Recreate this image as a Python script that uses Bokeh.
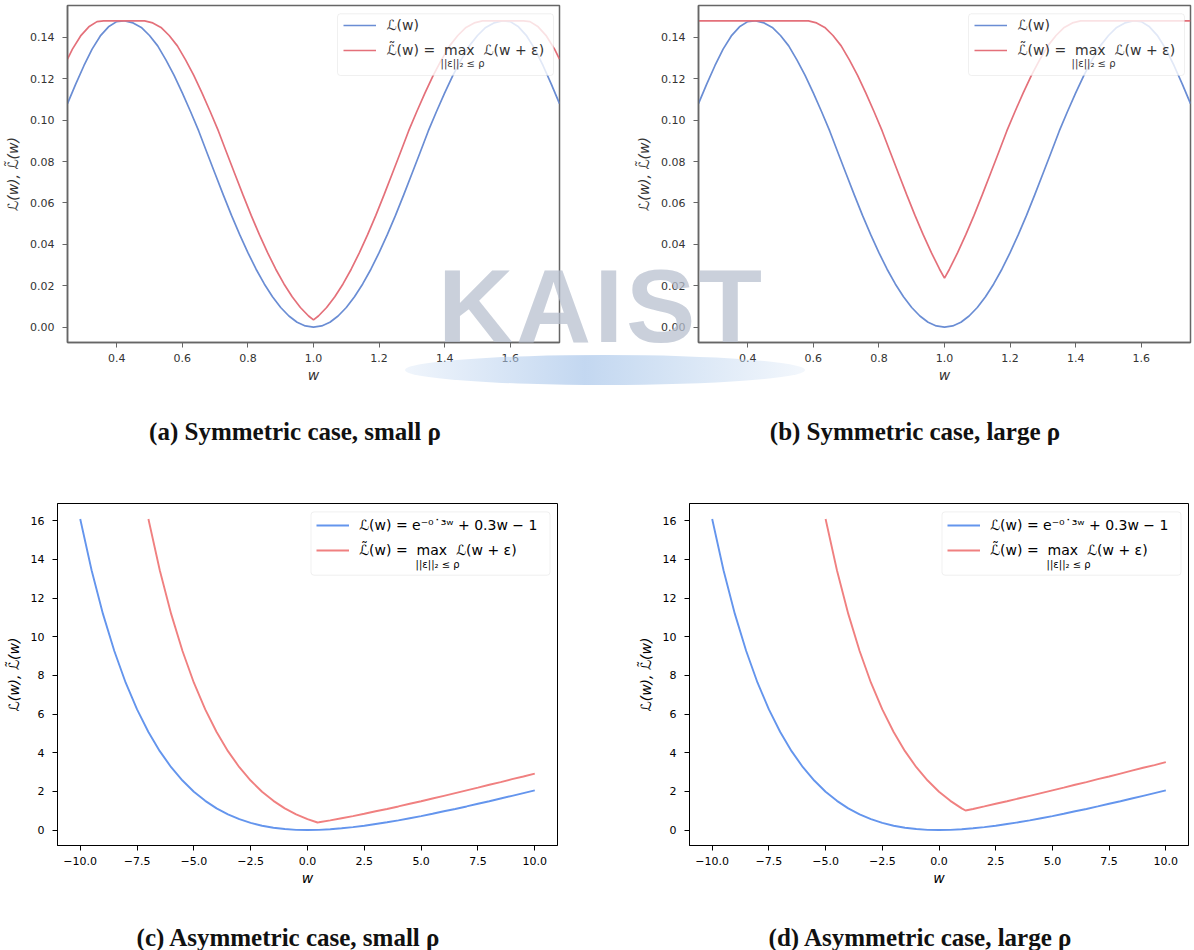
from bokeh.plotting import figure
from bokeh.models import (Range1d, FixedTicker, PrintfTickFormatter, Legend, LegendItem,
                          Label, BoxAnnotation, Div, Spacer)
from bokeh.layouts import column, row
from bokeh.embed import file_html
from bokeh.resources import INLINE

# ---------------- data ----------------
sym_x_ticks = [0.4, 0.6, 0.8, 1.0, 1.2, 1.4, 1.6]
sym_y_ticks = [0.0, 0.02, 0.04, 0.06, 0.08, 0.10, 0.12, 0.14]
asym_x_ticks = [-10.0, -7.5, -5.0, -2.5, 0.0, 2.5, 5.0, 7.5, 10.0]
asym_x_labels = ["\u221210.0", "\u22127.5", "\u22125.0", "\u22122.5", "0.0", "2.5", "5.0", "7.5", "10.0"]
asym_y_ticks = [0, 2, 4, 6, 8, 10, 12, 14, 16]

# symmetric loss L(w) (panels a, b)
w_sym = [0.25, 0.275, 0.3, 0.325, 0.35, 0.375, 0.4, 0.42, 0.425, 0.45, 0.475, 0.5, 0.525,
         0.55, 0.575, 0.6, 0.625, 0.65, 0.675, 0.7, 0.725, 0.75, 0.775, 0.8, 0.825, 0.85,
         0.875, 0.9, 0.925, 0.95, 0.975, 1.0, 1.025, 1.05, 1.075, 1.1, 1.125, 1.15, 1.175,
         1.2, 1.225, 1.25, 1.275, 1.3, 1.325, 1.35, 1.375, 1.4, 1.425, 1.45, 1.475, 1.5,
         1.525, 1.55, 1.575, 1.58, 1.6, 1.625, 1.65, 1.675, 1.7, 1.725, 1.75]
loss_sym = [0.1080, 0.1174, 0.1263, 0.1343, 0.1407, 0.1451, 0.1476, 0.1480, 0.1480, 0.1470,
            0.1448, 0.1409, 0.1359, 0.1291, 0.1216, 0.1132, 0.1042, 0.0948, 0.0844, 0.0741,
            0.0639, 0.0540, 0.0447, 0.0360, 0.0280, 0.0209, 0.0147, 0.0095, 0.0054, 0.0024,
            0.0006, 0.0, 0.0006, 0.0024, 0.0054, 0.0095, 0.0147, 0.0209, 0.0280, 0.0360,
            0.0447, 0.0540, 0.0639, 0.0741, 0.0844, 0.0948, 0.1042, 0.1132, 0.1216, 0.1291,
            0.1359, 0.1409, 0.1448, 0.1470, 0.1480, 0.1480, 0.1476, 0.1451, 0.1407, 0.1343,
            0.1263, 0.1174, 0.1080]

# SAM loss, small rho (panel a)
w_sam_a = [0.25, 0.265, 0.29, 0.315, 0.34, 0.36, 0.48, 0.485, 0.51, 0.535, 0.56, 0.585, 0.61,
           0.635, 0.66, 0.685, 0.71, 0.735, 0.76, 0.785, 0.81, 0.835, 0.86, 0.885, 0.91, 0.935,
           0.96, 0.985, 1.0, 1.015, 1.04, 1.065, 1.09, 1.115, 1.14, 1.165, 1.19, 1.215, 1.24,
           1.265, 1.29, 1.315, 1.34, 1.365, 1.39, 1.415, 1.44, 1.465, 1.49, 1.515, 1.52, 1.64,
           1.66, 1.685, 1.71, 1.735, 1.75]
loss_sam_a = [0.1295, 0.1343, 0.1407, 0.1451, 0.1476, 0.1480, 0.1480, 0.1480, 0.1470, 0.1448,
              0.1409, 0.1359, 0.1291, 0.1216, 0.1132, 0.1042, 0.0948, 0.0844, 0.0741, 0.0639,
              0.0540, 0.0447, 0.0360, 0.0280, 0.0209, 0.0147, 0.0095, 0.0054, 0.0035, 0.0054,
              0.0095, 0.0147, 0.0209, 0.0280, 0.0360, 0.0447, 0.0540, 0.0639, 0.0741, 0.0844,
              0.0948, 0.1042, 0.1132, 0.1216, 0.1291, 0.1359, 0.1409, 0.1448, 0.1470, 0.1480,
              0.1480, 0.1480, 0.1476, 0.1451, 0.1407, 0.1343, 0.1295]

# SAM loss, large rho (panel b)
w_sam_b = [0.25, 0.58, 0.585, 0.61, 0.635, 0.66, 0.685, 0.71, 0.735, 0.76, 0.785, 0.81, 0.835,
           0.86, 0.885, 0.91, 0.935, 0.96, 0.985, 1.0, 1.015, 1.04, 1.065, 1.09, 1.115, 1.14,
           1.165, 1.19, 1.215, 1.24, 1.265, 1.29, 1.315, 1.34, 1.365, 1.39, 1.415, 1.42, 1.75]
loss_sam_b = [0.1480, 0.1480, 0.1480, 0.1470, 0.1448, 0.1409, 0.1359, 0.1291, 0.1216, 0.1132,
              0.1042, 0.0948, 0.0844, 0.0741, 0.0639, 0.0540, 0.0447, 0.0360, 0.0280, 0.0237,
              0.0280, 0.0360, 0.0447, 0.0540, 0.0639, 0.0741, 0.0844, 0.0948, 0.1042, 0.1132,
              0.1216, 0.1291, 0.1359, 0.1409, 0.1448, 0.1470, 0.1480, 0.1480, 0.1480]

# asymmetric loss (panels c, d)
w_asym = [-10.0, -9.5, -9.0, -8.5, -8.0, -7.5, -7.0, -6.5, -6.0, -5.5, -5.0, -4.5, -4.0, -3.5,
          -3.0, -2.5, -2.0, -1.5, -1.0, -0.5, 0.0, 0.5, 1.0, 1.5, 2.0, 2.5, 3.0, 3.5, 4.0, 4.5,
          5.0, 5.5, 6.0, 6.5, 7.0, 7.5, 8.0, 8.5, 9.0, 9.5, 10.0]
loss_asym = [16.09, 13.44, 11.18, 9.26, 7.62, 6.24, 5.07, 4.08, 3.25, 2.56, 1.98, 1.51, 1.12, 0.81,
             0.56, 0.37, 0.22, 0.12, 0.05, 0.01, 0.0, 0.01, 0.04, 0.09, 0.15, 0.22, 0.31, 0.40,
             0.50, 0.61, 0.72, 0.84, 0.97, 1.09, 1.22, 1.36, 1.49, 1.63, 1.77, 1.91, 2.05]

w_sam_c = [-7.0, -6.5, -6.0, -5.5, -5.0, -4.5, -4.0, -3.5, -3.0, -2.5, -2.0, -1.5, -1.0, -0.5,
           0.0, 0.44, 0.5, 1.0, 1.5, 2.0, 2.5, 3.0, 3.5, 4.0, 4.5, 5.0, 5.5, 6.0, 6.5, 7.0, 7.5,
           8.0, 8.5, 9.0, 9.5, 10.0]
loss_sam_c = [16.09, 13.44, 11.18, 9.26, 7.62, 6.24, 5.07, 4.08, 3.25, 2.56, 1.98, 1.51, 1.12, 0.81,
              0.56, 0.39, 0.40, 0.50, 0.61, 0.72, 0.84, 0.97, 1.09, 1.22, 1.36, 1.49, 1.63, 1.77,
              1.91, 2.05, 2.19, 2.34, 2.48, 2.63, 2.77, 2.92]

w_sam_d = [-5.0, -4.5, -4.0, -3.5, -3.0, -2.5, -2.0, -1.5, -1.0, -0.5, 0.0, 0.5, 1.0, 1.17,
           1.5, 2.0, 2.5, 3.0, 3.5, 4.0, 4.5, 5.0, 5.5, 6.0, 6.5, 7.0, 7.5, 8.0, 8.5, 9.0, 9.5, 10.0]
loss_sam_d = [16.09, 13.44, 11.18, 9.26, 7.62, 6.24, 5.07, 4.08, 3.25, 2.56, 1.98, 1.51, 1.12, 1.01,
              1.09, 1.22, 1.36, 1.49, 1.63, 1.77, 1.91, 2.05, 2.19, 2.34, 2.48, 2.63, 2.77, 2.92,
              3.07, 3.22, 3.36, 3.51]

captions = ["(a) Symmetric case, small \u03c1", "(b) Symmetric case, large \u03c1",
            "(c) Asymmetric case, small \u03c1", "(d) Asymmetric case, large \u03c1"]
legend_sym = ["\u2112(w)", "\u2112\u0303(w) =\u00a0 max\u00a0 \u2112(w + \u03b5)"]
legend_asym = ["\u2112(w) = e\u207b\u2070\u02d9\u00b3\u02b7 + 0.3w \u2212 1",
               "\u2112\u0303(w) =\u00a0 max\u00a0 \u2112(w + \u03b5)"]
subscript_text = "||\u03b5||\u2082 \u2264 \u03c1"
y_label = "\u2112(w), \u2112\u0303(w)"
x_label = "w"
watermark = "KAIST"

# ---------------- styles ----------------
SYM = dict(blue="#6a8dd4", red="#e4707a", frame="#666666", frame_w=1.5, text="#333333", lw=1.7)
ASYM = dict(blue="#6495ed", red="#f08080", frame="#000000", frame_w=1.0, text="#000000", lw=1.9)
FONT = "DejaVu Sans"


def make_panel(kind, wb, lb, wr, lr, fw, fh, mbl, mbr, mbt, mbb):
    st = SYM if kind == "sym" else ASYM
    if kind == "sym":
        xr, yr = (0.25, 1.75), (-0.0074, 0.1554)
    else:
        xr, yr = (-11.0, 11.0), (-0.80, 16.89)
    p = figure(output_backend="svg", toolbar_location=None, frame_width=fw, frame_height=fh,
               x_range=Range1d(*xr), y_range=Range1d(*yr),
               min_border_left=mbl, min_border_right=mbr, min_border_top=mbt, min_border_bottom=mbb,
               background_fill_color="white", border_fill_color="white")
    p.outline_line_color = st["frame"]
    p.outline_line_width = st["frame_w"]
    p.grid.visible = False
    xa, ya = p.xaxis[0], p.yaxis[0]
    if kind == "sym":
        xa.ticker = FixedTicker(ticks=sym_x_ticks)
        xa.formatter = PrintfTickFormatter(format="%.1f")
        ya.ticker = FixedTicker(ticks=sym_y_ticks)
        ya.formatter = PrintfTickFormatter(format="%.2f")
    else:
        xa.ticker = FixedTicker(ticks=asym_x_ticks)
        xa.major_label_overrides = {t: s for t, s in zip(asym_x_ticks, asym_x_labels)}
        ya.ticker = FixedTicker(ticks=asym_y_ticks)
    for ax in (xa, ya):
        ax.axis_line_color = st["frame"]
        ax.axis_line_width = st["frame_w"]
        ax.major_tick_line_color = st["frame"]
        ax.major_tick_in = 0
        ax.major_tick_out = 5
        ax.minor_tick_line_color = None
        ax.major_label_text_font = FONT
        ax.major_label_text_font_size = "11px"
        ax.major_label_text_color = st["text"]
        ax.axis_label_text_font = FONT
        ax.axis_label_text_font_size = "14px"
        ax.axis_label_text_font_style = "italic"
        ax.axis_label_text_color = st["text"]
    xa.major_label_standoff = 6
    xa.axis_label_standoff = 2
    ya.major_label_standoff = 8
    ya.axis_label_standoff = 6
    xa.axis_label = x_label
    ya.axis_label = y_label

    r1 = p.line(wb, lb, line_color=st["blue"], line_width=st["lw"])
    r2 = p.line(wr, lr, line_color=st["red"], line_width=st["lw"])

    # legend box + legend + subscript under "max"
    if kind == "sym":
        box_w, pad_r, top, bot, it_bot, samp, stand, sub_dx, sub_dy = 216, 6, 8.3, 70, 55, 5.5, 11, 125, 58
        texts = legend_sym
    else:
        box_w, pad_r, top, bot, it_bot, samp, stand, sub_dx, sub_dy = 239, 7.5, 8.4, 71.7, 56.7, 5.5, 10, 126.6, 60.7
        texts = legend_asym
    bl = fw - pad_r - box_w
    p.add_layout(BoxAnnotation(left=bl, right=fw - pad_r, top=fh - top, bottom=fh - bot,
                               left_units="screen", right_units="screen",
                               top_units="screen", bottom_units="screen",
                               fill_color="white", fill_alpha=0.8, line_color="#cccccc",
                               line_width=1, border_radius=3))
    leg = Legend(items=[LegendItem(label=texts[0], renderers=[r1]),
                        LegendItem(label=texts[1], renderers=[r2])],
                 location=(bl + samp, fh - it_bot), padding=0, margin=0, spacing=5,
                 glyph_width=33, glyph_height=20, label_height=20, label_standoff=stand,
                 border_line_alpha=0, background_fill_alpha=0,
                 label_text_font=FONT, label_text_font_size="14px", label_text_color=st["text"])
    p.add_layout(leg)
    p.add_layout(Label(x=bl + sub_dx, y=fh - sub_dy, x_units="screen", y_units="screen",
                       text=subscript_text, text_align="center", text_baseline="middle",
                       text_font=FONT, text_font_size="10px", text_color=st["text"]))
    return p


# layout in page pixels (the page body has no margin)
fa = make_panel("sym", w_sym, loss_sym, w_sam_a, loss_sam_a, 492, 337, 67, 41, 5, 53)
fb = make_panel("sym", w_sym, loss_sym, w_sam_b, loss_sam_b, 492, 337, 98, 4, 5, 53)
fc = make_panel("asym", w_asym, loss_asym, w_sam_c, loss_sam_c, 500, 342, 57, 43, 38, 46)
fd = make_panel("asym", w_asym, loss_asym, w_sam_d, loss_sam_d, 499, 342, 89, 6, 38, 46)

# overlay: captions and the KAIST watermark (page coordinates)
cap_pos = [(290, 435), (910, 435), (283, 941), (915, 941)]   # (centre x, baseline y)
parts = []
parts.append('<div style="position:absolute;left:400px;top:350px;width:400px;height:30px;'
             'border-radius:50%;background:linear-gradient(to right, rgba(212,227,246,0.35), '
             'rgba(172,200,235,0.72) 45%, rgba(186,210,238,0.66) 62%, rgba(215,229,246,0.3));"></div>')
parts.append('<div style="position:absolute;left:433px;top:249px;font-family:\'Liberation Sans\';'
             'font-weight:bold;font-size:104px;line-height:104px;letter-spacing:3px;'
             'white-space:nowrap;color:rgba(184,191,206,0.74);">%s</div>' % watermark)
for (cx, by), txt in zip(cap_pos, captions):
    parts.append('<div style="position:absolute;left:%dpx;top:%dpx;transform:translateX(-50%%);'
                 'font-family:\'Liberation Serif\';font-weight:bold;font-size:25px;line-height:25px;'
                 'white-space:nowrap;color:#111111;">%s</div>' % (cx, by - 21, txt))
overlay = Div(text="".join(parts), width=1190, height=945,
              styles={"position": "absolute", "left": "0px", "top": "0px",
                      "pointer-events": "none", "z-index": "5", "overflow": "visible"})

p = column(row(fa, fb), Spacer(width=1194, height=70), row(fc, fd), overlay)
open("out.html", "w").write(file_html(p, INLINE))
